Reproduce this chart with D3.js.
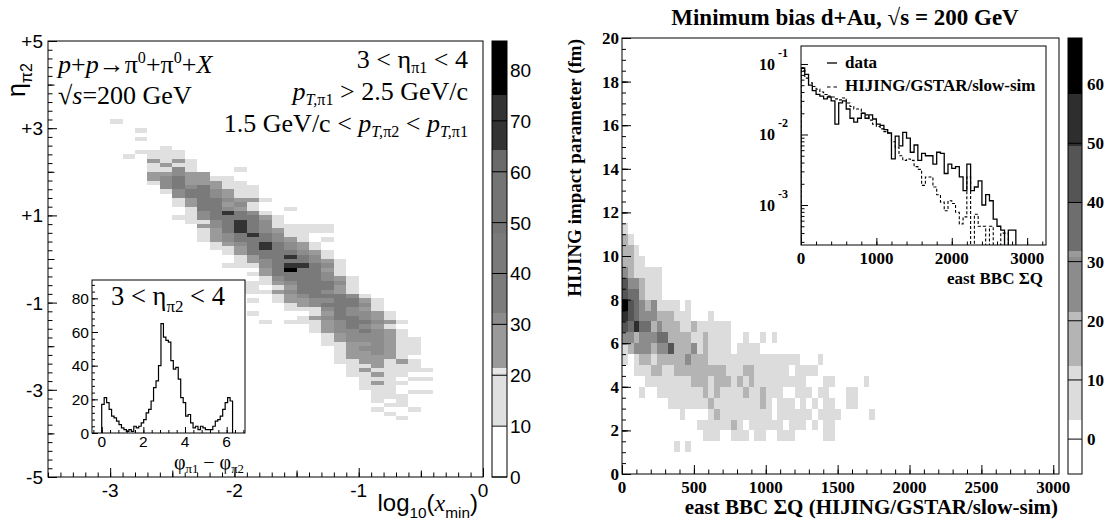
<!DOCTYPE html>
<html><head><meta charset="utf-8">
<script src="https://cdn.jsdelivr.net/npm/d3@7/dist/d3.min.js"></script>
<style>html,body{margin:0;padding:0;background:#fff;} svg{display:block;} text{white-space:pre;}</style>
</head><body>
<svg id="chart" width="1111" height="527" xmlns="http://www.w3.org/2000/svg"></svg>
<script>
// ================= DATA =================
// ---- Left: eta_pi2 vs log10(x_min), bins of 0.1 x 0.1 ----
const leftLogxBin = 0.1, leftEtaBin = 0.1;
// level code -> estimated counts
const leftLevelCounts = {'.':0,'1':15,'2':25,'3':31,'4':42,'5':55,'6':62,'7':70,'8':82};
// [upper eta edge, lower log10(x) edge of first bin, level codes]
const leftRows = [
 [3.2,-3.0,"1"],
 [3.0,-2.8,"1"],
 [2.8,-2.8,"1"],
 [2.6,-2.6,"1"],
 [2.5,-2.8,"1111"],
 [2.4,-2.9,"1.111"],
 [2.3,-2.7,"2121"],
 [2.2,-2.7,"1211"],
 [2.1,-2.7,"1131...1"],
 [2.0,-2.7,"22322"],
 [1.9,-2.7,"2342211"],
 [1.8,-2.7,"13422211"],
 [1.7,-2.6,"34342111"],
 [1.6,-2.6,"13443211"],
 [1.5,-2.5,"3443211"],
 [1.4,-2.5,"12443221"],
 [1.3,-2.5,"1244231"],
 [1.2,-2.4,"144321..1"],
 [1.1,-2.4,"1347431"],
 [1.0,-2.5,"113444421"],
 [0.9,-2.4,"11347431"],
 [0.8,-2.3,"23474311111"],
 [0.7,-2.3,"12474321111"],
 [0.6,-2.3,"123474311"],
 [0.5,-2.3,"123444321.1"],
 [0.4,-2.2,"123474321"],
 [0.3,-2.2,"112474321"],
 [0.2,-2.1,"124444321"],
 [0.1,-2.0,"12447431"],
 [0.0,-2.0,"123444321"],
 [-0.1,-2.1,"1113477431"],
 [-0.2,-1.8,"2484421"],
 [-0.3,-1.9,"12444431"],
 [-0.4,-1.8,"13444321"],
 [-0.5,-2.0,"1112344431"],
 [-0.6,-2.0,"11.1244421"],
 [-0.7,-2.0,"1112344321"],
 [-0.8,-1.7,"12344431"],
 [-0.9,-1.9,"1.122334421"],
 [-1.0,-1.6,"12344431"],
 [-1.1,-1.6,"11134321"],
 [-1.2,-1.9,"1....1243321"],
 [-1.3,-1.5,"12344321"],
 [-1.4,-1.8,"1.1112344321"],
 [-1.5,-1.4,"1234321"],
 [-1.6,-1.4,"12334321"],
 [-1.7,-1.3,"1233321"],
 [-1.8,-1.3,"12333211"],
 [-1.9,-1.3,"11223211"],
 [-2.0,-1.2,"1233211"],
 [-2.1,-1.2,"1223211"],
 [-2.2,-1.2,"122221"],
 [-2.3,-1.2,"1122121"],
 [-2.4,-1.1,"112111"],
 [-2.5,-1.1,"1211111"],
 [-2.6,-1.1,"11211"],
 [-2.7,-1.0,"111.11"],
 [-2.8,-1.0,"1211"],
 [-2.9,-1.0,"111"],
 [-3.0,-0.9,"11.11"],
 [-3.1,-0.9,"111"],
 [-3.2,-0.9,"1.1"],
 [-3.3,-0.8,"11"],
 [-3.4,-0.9,"1..1"],
 [-3.5,-0.8,"1"],
 [-3.6,-0.7,"1"]
];
const leftXTickValues = [-3,-2,-1,0];
const leftXTickLabels = ['-3','-2','-1','0'];
const leftYTickValues = [5,3,1,-1,-3,-5];
const leftYTickLabels = ['+5','+3','+1','-1','-3','-5'];
const leftZTicks = [0,10,20,30,40,50,60,70,80];
const leftPaletteEdges = [10.2,20.4,21.4,29.9,32.2,39,48,59.7,64.2,75];
const leftPaletteColors = ['#ffffff','#e0e0e0','#e8e8e8','#9a9a9a','#8c8c8c','#7c7c7c','#7a7a7a','#747474','#6a6a6a','#333333','#000000'];

// ---- Left inset: phi_pi1 - phi_pi2, 53 bins over [0, 2pi] ----
const phiCounts = [17,21,18,14,10,9,7,5,3,2,1,2,1,4,3,4,6,8,12,14,19,27,31,40,65,57,55,54,43,38,39,32,21,18,10,11,6,3,4,2,4,3,2,2,2,4,7,8,10,14,18,21,19];
const phiXTicks = [0,2,4,6];
const phiYTicks = [0,20,40,60,80];

// ---- Right: impact parameter vs east BBC sumQ, bins 40 x 0.5 fm ----
const rightQBin = 40, rightBBin = 0.5;
const rightLevelCounts = {'.':0,'1':7,'2':16,'3':26,'4':35,'5':45,'6':54,'7':63};
// [lower b edge, level codes from sumQ = 0]
const rightRows = [
 [11.0,"1"],
 [10.5,"21"],
 [10.0,"221"],
 [9.5,"2211"],
 [9.0,"3211111"],
 [8.5,"5332111"],
 [8.0,"5442111"],
 [7.5,"7543231111.1"],
 [7.0,"654333222111...1"],
 [6.5,"5464423222112111111"],
 [6.0,"3323334422221121111..1..1.1"],
 [5.5,"1233323352223121111.1111"],
 [5.0,"1.12212222232221111111111111111...1"],
 [4.5,"..111221122222222211122111111.1111"],
 [4.0,"....1111111122212221212111111111...11.....1"],
 [3.5,"...1..1111111121211112112111..111.11...11"],
 [3.0,"........111111121111111121.111.1.1.11..11"],
 [2.5,"..........1....12111111111.111111.1111.....1"],
 [2.0,".............11111121.111111.111.1.11"],
 [1.5,"..............111..111.11..111.....11"],
 [1.0,".........1.1"]
];
const rightXTicks = [0,500,1000,1500,2000,2500,3000];
const rightYTicks = [0,2,4,6,8,10,12,14,16,18,20];
const rightZTicks = [0,10,20,30,40,50,60];
const rightPaletteEdges = [3.2,12.3,19.8,21.5,30.8,31.8,39.9,49.5,58.4];
const rightPaletteColors = ['#ffffff','#dcdcdc','#b4b4b4','#bcbcbc','#8c8c8c','#9a9a9a','#6e6e6e','#555555','#2e2e2e','#000000'];

// ---- Right inset: normalized east BBC sumQ, bins of 50 ----
const bbcBin = 50;
const bbcData = [0.087,0.071,0.050,0.042,0.037,0.035,0.032,0.034,0.030,0.014,0.028,0.030,0.023,0.017,0.015,0.017,0.020,0.017,0.019,0.0166,0.014,0.0135,0.0117,0.0105,0.0045,0.0095,0.0069,0.0107,0.0089,0.0056,0.0071,0.0043,0.0054,0.0050,0.0050,0.0038,0.0056,0.0054,0.0028,0.0038,0.0033,0.0035,0.0025,0.0016,0.0038,0.0016,0.0018,0.0022,0.0010,0.0014,0.00115,0.00063,0.0005,0.00044,0,0.00044,0.00044];
const bbcSim = [0.081,0.063,0.054,0.048,0.044,0.040,0.037,0.035,0.034,0.032,0.031,0.033,0.028,0.025,0.023,0.023,0.020,0.019,0.016,0.014,0.013,0.012,0.011,0.0105,0.0079,0.0066,0.0050,0.0043,0.0045,0.0043,0.0035,0.0032,0.0019,0.0025,0.0025,0.0018,0.0014,0.0011,0.00083,0.00115,0.00105,0.00079,0.00054,0.00068,0.0025,0,0.00074,0.0005,0.0005,0,0.0005,0,0,0.0004,0.0004];
const bbcXTicks = [0,1000,2000,3000];
const bbcYDecades = [-3,-2,-1];

// ================= DRAWING =================
const svg = d3.select('#chart');
const SANS = "'Liberation Sans', Arial, Helvetica, sans-serif";
const SERIF = "'Liberation Serif', 'Times New Roman', Times, serif";

function rich(g, x, y, parts, o) {
  const t = g.append('text').attr('x', x).attr('y', y)
    .attr('font-family', o.family).attr('font-size', o.size)
    .attr('text-anchor', o.anchor || 'start')
    .attr('font-weight', o.weight || 'normal').attr('fill', '#000');
  if (o.rotate) t.attr('transform', `rotate(${o.rotate},${x},${y})`);
  const subShift = o.subShift || 0.28, subScale = o.subScale || 0.64;
  let cur = 0;
  parts.forEach(p => {
    const pp = (typeof p === 'string') ? {t: p} : p;
    let shift = 0, fs = o.size;
    if (pp.sub) { shift = o.size * subShift; fs = o.size * subScale; }
    if (pp.sup) { shift = -o.size * 0.4; fs = o.size * subScale; }
    const ts = t.append('tspan').attr('dy', shift - cur).attr('font-size', fs).text(pp.t);
    if (pp.it) ts.attr('font-style', 'italic');
    if (pp.family) ts.attr('font-family', pp.family);
    cur = shift;
  });
  return t;
}
function ticks(g, gen, scale, vals, len, tx, ty) {
  const a = gen(scale).tickValues(vals).tickSize(-len).tickSizeOuter(0).tickFormat('');
  const s = g.append('g').attr('transform', `translate(${tx},${ty})`).call(a);
  s.select('.domain').remove();
  s.selectAll('.tick text').remove();
  s.selectAll('.tick line').attr('stroke', '#000').attr('stroke-width', 1);
}
const rng = (a, b, s) => d3.range(Math.round(a / s), Math.round(b / s) + 1).map(i => +(i * s).toFixed(6));
function label(g, x, y, txt, o) {
  return g.append('text').attr('x', x).attr('y', y).text(txt)
    .attr('font-family', o.family).attr('font-size', o.size)
    .attr('font-weight', o.weight || 'normal')
    .attr('text-anchor', o.anchor || 'middle').attr('fill', '#000');
}
function colorbar(g, scale, x0, x1, edges, colors, tickVals, lblX, o) {
  const [d0, d1] = scale.domain();
  const bands = colors.map((c, i) => ({lo: i === 0 ? d0 : edges[i - 1], hi: i === edges.length ? d1 : edges[i], c}));
  g.append('g').attr('shape-rendering', 'crispEdges').selectAll('rect').data(bands).join('rect')
    .attr('x', x0).attr('width', x1 - x0)
    .attr('y', d => scale(Math.min(d.hi, d1))).attr('height', d => scale(Math.max(d.lo, d0)) - scale(Math.min(d.hi, d1)))
    .attr('fill', d => d.c);
  g.append('rect').attr('x', x0).attr('y', scale(d1)).attr('width', x1 - x0).attr('height', scale(d0) - scale(d1))
    .attr('fill', 'none').attr('stroke', '#000');
  g.selectAll(null).data(tickVals).join('line')
    .attr('x1', x0).attr('x2', x1).attr('y1', d => scale(d)).attr('y2', d => scale(d))
    .attr('stroke', '#000').attr('stroke-width', 1);
  tickVals.forEach(v => label(g, lblX, scale(v) + o.dy, String(v), {family: o.family, size: o.size, weight: o.weight, anchor: 'start'}));
}

// ---------- LEFT PANEL ----------
const gL = svg.append('g');
const xL = d3.scaleLinear().domain([-3.5, 0]).range([48, 483]);
const yL = d3.scaleLinear().domain([-5, 5]).range([477, 41]);
const leftColor = d3.scaleThreshold().domain(leftPaletteEdges).range(leftPaletteColors);
const cellsL = leftRows.flatMap(([etaHi, lx0, s]) =>
  [...s].map((ch, i) => ({lx: lx0 + i * leftLogxBin, eta: etaHi, v: leftLevelCounts[ch]})).filter(d => d.v > 0));
gL.append('g').attr('shape-rendering', 'crispEdges').selectAll('rect').data(cellsL).join('rect')
  .attr('x', d => xL(d.lx)).attr('y', d => yL(d.eta))
  .attr('width', d => xL(d.lx + leftLogxBin) - xL(d.lx))
  .attr('height', d => yL(d.eta - leftEtaBin) - yL(d.eta))
  .attr('fill', d => leftColor(d.v));
gL.append('rect').attr('x', 48).attr('y', 41).attr('width', 435).attr('height', 436)
  .attr('fill', 'none').attr('stroke', '#000');
ticks(gL, d3.axisLeft, yL, rng(-5, 5, 0.2), 4.5, 48, 0);
ticks(gL, d3.axisLeft, yL, [-4, -2, 0, 2, 4], 6.5, 48, 0);
ticks(gL, d3.axisLeft, yL, leftYTickValues, 9, 48, 0);
ticks(gL, d3.axisBottom, xL, rng(-3.5, 0, 0.1), 4.5, 0, 477);
ticks(gL, d3.axisBottom, xL, [-2.5, -1.5, -0.5], 6.5, 0, 477);
ticks(gL, d3.axisBottom, xL, leftXTickValues, 9, 0, 477);
leftYTickValues.forEach((v, i) => label(gL, 43, yL(v) + 7, leftYTickLabels[i], {family: SANS, size: 19, anchor: 'end'}));
leftXTickValues.forEach((v, i) => label(gL, xL(v), 497, leftXTickLabels[i], {family: SANS, size: 19}));
rich(gL, 25, 97, ['η', {t: 'π2', sub: 1}], {family: SANS, size: 25, rotate: -90});
rich(gL, 478, 511, ['log', {t: '10', sub: 1}, '(', {t: 'x', it: 1, family: SERIF}, {t: 'min', sub: 1}, ')'], {family: SANS, size: 24, anchor: 'end'});

// annotations
const annL = {family: SERIF, size: 26, subShift: 0.2, subScale: 0.62};
rich(gL, 58, 73, [{t: 'p', it: 1}, '+', {t: 'p', it: 1}, '→π', {t: '0', sup: 1}, '+π', {t: '0', sup: 1}, '+', {t: 'X', it: 1}], annL);
rich(gL, 58, 104, ['√', {t: 's', it: 1}, '=200 GeV'], annL);
rich(gL, 468, 68, ['3 < η', {t: 'π1', sub: 1}, ' < 4'], {...annL, anchor: 'end'});
rich(gL, 468, 100, [{t: 'p', it: 1}, {t: 'T,', sub: 1, it: 1}, {t: 'π1', sub: 1}, ' > 2.5 GeV/c'], {...annL, anchor: 'end'});
rich(gL, 468, 132, ['1.5 GeV/c < ', {t: 'p', it: 1}, {t: 'T,', sub: 1, it: 1}, {t: 'π2', sub: 1}, ' < ', {t: 'p', it: 1}, {t: 'T,', sub: 1, it: 1}, {t: 'π1', sub: 1}], {...annL, anchor: 'end'});

// left colorbar
const zL = d3.scaleLinear().domain([0, 85.7]).range([477, 41]);
colorbar(gL, zL, 492, 507, leftPaletteEdges, leftPaletteColors, leftZTicks, 510, {family: SANS, size: 19, dy: 7});

// left inset
const gLI = svg.append('g');
const xLI = d3.scaleLinear().domain([-0.466, 6.88]).range([92, 245]);
const yLI = d3.scaleLinear().domain([0, 90.9]).range([433, 280]);
gLI.append('rect').attr('x', 92).attr('y', 280).attr('width', 153).attr('height', 153).attr('fill', '#fff');
const phiBw = 2 * Math.PI / phiCounts.length;
const phiPts = phiCounts.map((c, i) => [i * phiBw, c]);
phiPts.push([phiCounts.length * phiBw, phiCounts[phiCounts.length - 1]]);
const phiLine = d3.line().x(d => xLI(d[0])).y(d => yLI(d[1])).curve(d3.curveStepAfter);
gLI.append('path')
  .attr('d', `M${xLI(0)},${yLI(0)}L` + phiLine(phiPts).slice(1) + `L${xLI(2 * Math.PI)},${yLI(0)}`)
  .attr('fill', 'none').attr('stroke', '#000').attr('stroke-width', 1.2);
gLI.append('rect').attr('x', 92).attr('y', 280).attr('width', 153).attr('height', 153).attr('fill', 'none').attr('stroke', '#000');
ticks(gLI, d3.axisLeft, yLI, rng(0, 88, 4), 3, 92, 0);
ticks(gLI, d3.axisLeft, yLI, phiYTicks, 6, 92, 0);
ticks(gLI, d3.axisBottom, xLI, rng(-0.4, 6.8, 0.4), 3, 0, 433);
ticks(gLI, d3.axisBottom, xLI, phiXTicks, 6, 0, 433);
phiYTicks.forEach(v => label(gLI, 89, yLI(v) + 5.5, String(v), {family: SANS, size: 15.5, anchor: 'end'}));
phiXTicks.forEach(v => label(gLI, xLI(v), 447, String(v), {family: SANS, size: 15.5}));
rich(gLI, 168, 305, ['3 < η', {t: 'π2', sub: 1}, ' < 4'], {family: SERIF, size: 26.5, anchor: 'middle'});
rich(gLI, 244, 469, ['φ', {t: 'π1', sub: 1}, ' − φ', {t: 'π2', sub: 1}], {family: SERIF, size: 20, anchor: 'end', subShift: 0.22});

// ---------- RIGHT PANEL ----------
const gR = svg.append('g');
const xR = d3.scaleLinear().domain([0, 3040]).range([622, 1059]);
const yR = d3.scaleLinear().domain([0, 20]).range([474, 38]);
const rightColor = d3.scaleThreshold().domain(rightPaletteEdges).range(rightPaletteColors);
const cellsR = rightRows.flatMap(([b0, s]) =>
  [...s].map((ch, i) => ({q: i * rightQBin, b: b0, v: rightLevelCounts[ch]})).filter(d => d.v > 0));
gR.append('g').attr('shape-rendering', 'crispEdges').selectAll('rect').data(cellsR).join('rect')
  .attr('x', d => xR(d.q)).attr('y', d => yR(d.b + rightBBin))
  .attr('width', d => xR(d.q + rightQBin) - xR(d.q))
  .attr('height', d => yR(d.b) - yR(d.b + rightBBin))
  .attr('fill', d => rightColor(d.v));
gR.append('rect').attr('x', 622).attr('y', 38).attr('width', 437).attr('height', 436)
  .attr('fill', 'none').attr('stroke', '#000');
ticks(gR, d3.axisLeft, yR, rng(0, 20, 0.5), 4, 622, 0);
ticks(gR, d3.axisLeft, yR, rng(1, 19, 2), 6, 622, 0);
ticks(gR, d3.axisLeft, yR, rightYTicks, 9, 622, 0);
ticks(gR, d3.axisBottom, xR, rng(0, 3000, 100), 4.5, 0, 474);
ticks(gR, d3.axisBottom, xR, rightXTicks, 9, 0, 474);
const bold17 = {family: SERIF, size: 17, weight: 'bold'};
rightYTicks.forEach(v => label(gR, 619, yR(v) + 6, String(v), {...bold17, anchor: 'end'}));
rightXTicks.forEach(v => label(gR, xR(v), 493, String(v), bold17));
label(gR, 845, 25, 'Minimum bias d+Au, √s = 200 GeV', {family: SERIF, size: 23, weight: 'bold'});
label(gR, 581, 39, 'HIJING impact parameter (fm)', {family: SERIF, size: 19, weight: 'bold', anchor: 'end'})
  .attr('transform', 'rotate(-90,581,39)');
label(gR, 1058, 514, 'east BBC ΣQ (HIJING/GSTAR/slow-sim)', {family: SERIF, size: 21, weight: 'bold', anchor: 'end'});

const zR = d3.scaleLinear().domain([-5.9, 67.8]).range([474, 38]);
colorbar(gR, zR, 1068, 1082, rightPaletteEdges, rightPaletteColors, rightZTicks, 1087, {...bold17, dy: 6});

// right inset
const gRI = svg.append('g');
const RI = {x0: 801, x1: 1046, y0: 46, y1: 245};
const xRI = d3.scaleLinear().domain([0, 3250]).range([RI.x0, RI.x1]);
const yRI = d3.scaleLog().domain([Math.pow(10, -3.567), Math.pow(10, -0.745)]).range([RI.y1, RI.y0]);
gRI.append('rect').attr('x', RI.x0).attr('y', RI.y0).attr('width', RI.x1 - RI.x0).attr('height', RI.y1 - RI.y0).attr('fill', '#fff');
svg.append('defs').append('clipPath').attr('id', 'clipRI').append('rect')
  .attr('x', RI.x0).attr('y', RI.y0).attr('width', RI.x1 - RI.x0).attr('height', RI.y1 - RI.y0);
const stepLine = d3.line().x(d => xRI(d[0])).y(d => d[1] > 0 ? yRI(d[1]) : RI.y1 + 3).curve(d3.curveStepAfter);
function histPath(vals) {
  const pts = vals.map((v, i) => [i * bbcBin, v]);
  pts.push([vals.length * bbcBin, vals[vals.length - 1]]);
  return `M${xRI(0)},${RI.y1 + 3}L` + stepLine(pts).slice(1) + `L${xRI(vals.length * bbcBin)},${RI.y1 + 3}`;
}
const gClip = gRI.append('g').attr('clip-path', 'url(#clipRI)');
gClip.append('path').attr('d', histPath(bbcSim)).attr('fill', 'none').attr('stroke', '#000')
  .attr('stroke-width', 1.1).attr('stroke-dasharray', '3,2');
gClip.append('path').attr('d', histPath(bbcData)).attr('fill', 'none').attr('stroke', '#000').attr('stroke-width', 1.3);
gRI.append('rect').attr('x', RI.x0).attr('y', RI.y0).attr('width', RI.x1 - RI.x0).attr('height', RI.y1 - RI.y0)
  .attr('fill', 'none').attr('stroke', '#000');
const logMinor = [];
[-4, -3, -2, -1].forEach(k => { for (let m = 2; m <= 9; m++) { const v = m * Math.pow(10, k); if (v > yRI.domain()[0] && v < yRI.domain()[1]) logMinor.push(v); } });
ticks(gRI, d3.axisLeft, yRI, logMinor, 3.5, RI.x0, 0);
ticks(gRI, d3.axisLeft, yRI, bbcYDecades.map(k => Math.pow(10, k)), 7, RI.x0, 0);
ticks(gRI, d3.axisBottom, xRI, rng(0, 3200, 200), 3.5, 0, RI.y1);
ticks(gRI, d3.axisBottom, xRI, bbcXTicks, 7, 0, RI.y1);
bbcYDecades.forEach(k => {
  const y = yRI(Math.pow(10, k));
  label(gRI, 775, y + 6, '10', {family: SERIF, size: 16, weight: 'bold', anchor: 'end'});
  label(gRI, 778, y - 7, String(k), {family: SERIF, size: 12, weight: 'bold', anchor: 'start'});
});
bbcXTicks.forEach(v => label(gRI, xRI(v), 264, String(v), bold17));
label(gRI, 1043, 284, 'east BBC ΣQ', {...bold17, anchor: 'end'});
gRI.append('line').attr('x1', 827).attr('x2', 837).attr('y1', 63).attr('y2', 63).attr('stroke', '#000').attr('stroke-width', 1.3);
gRI.append('line').attr('x1', 827).attr('x2', 840).attr('y1', 87).attr('y2', 87).attr('stroke', '#000').attr('stroke-width', 1.1).attr('stroke-dasharray', '3.5,3');
label(gRI, 845, 68, 'data', {...bold17, anchor: 'start'});
label(gRI, 845, 91, 'HIJING/GSTAR/slow-sim', {...bold17, anchor: 'start'});
</script>
</body></html>
